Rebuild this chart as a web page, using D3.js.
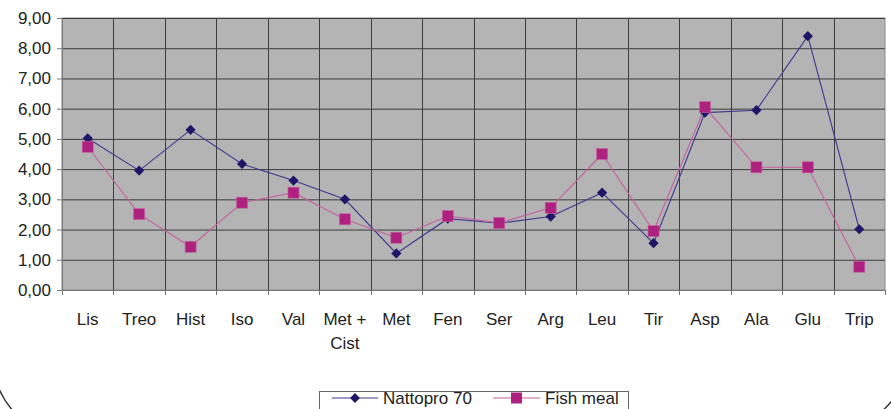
<!DOCTYPE html>
<html>
<head>
<meta charset="utf-8">
<script src="https://cdn.jsdelivr.net/npm/d3@7"></script>
<style>
  html, body { margin: 0; padding: 0; background: #fff; }
  svg { display: block; font-family: "Liberation Sans", Arial, sans-serif; }
</style>
</head>
<body>
<svg id="chart" width="891" height="409"></svg>
<script>
// amino acids (x categories)
const categories = ["Lis","Treo","Hist","Iso","Val","Met + Cist","Met","Fen","Ser","Arg","Leu","Tir","Asp","Ala","Glu","Trip"];
const catLabels = [["Lis"],["Treo"],["Hist"],["Iso"],["Val"],["Met +","Cist"],["Met"],["Fen"],["Ser"],["Arg"],["Leu"],["Tir"],["Asp"],["Ala"],["Glu"],["Trip"]];
const nattopro = [5.02,3.95,5.30,4.17,3.62,3.00,1.21,2.36,2.21,2.43,3.22,1.55,5.87,5.95,8.40,2.01];
const fishMeal = [4.74,2.51,1.43,2.89,3.22,2.34,1.73,2.45,2.22,2.72,4.50,1.95,6.05,4.06,4.06,0.77];
const yTicks = [0,1,2,3,4,5,6,7,8,9];
const seriesNames = ["Nattopro 70","Fish meal"];

const svg = d3.select('#chart');
const plot = {left: 62, right: 885, top: 18, bottom: 290};

const x = d3.scaleBand().domain(categories).range([plot.left, plot.right]).padding(0);
const y = d3.scaleLinear().domain([0, 9]).range([plot.bottom, plot.top]);
const fmt = v => d3.format('.2f')(v).replace('.', ',');

// plot background
svg.append('rect')
    .attr('x', plot.left).attr('y', plot.top)
    .attr('width', plot.right - plot.left).attr('height', plot.bottom - plot.top)
    .attr('fill', '#b4b4b4')
    .attr('stroke', '#8a8a8a');

// horizontal grid
svg.append('g').selectAll('line')
    .data(yTicks)
    .join('line')
    .attr('x1', plot.left).attr('x2', plot.right)
    .attr('y1', d => y(d) + 0.5).attr('y2', d => y(d) + 0.5)
    .attr('stroke', '#3c3c3c').attr('stroke-width', 1);

// vertical grid at category boundaries
const bounds = categories.slice(1).map(c => x(c));
svg.append('g').selectAll('line')
    .data(bounds)
    .join('line')
    .attr('x1', d => Math.round(d) + 0.5).attr('x2', d => Math.round(d) + 0.5)
    .attr('y1', plot.top).attr('y2', plot.bottom)
    .attr('stroke', '#3c3c3c').attr('stroke-width', 1);

// y axis
const yAxis = svg.append('g')
    .attr('transform', `translate(${plot.left},0)`)
    .call(d3.axisLeft(y).tickValues(yTicks).tickFormat(fmt).tickSize(5).tickPadding(6));
yAxis.select('.domain').attr('stroke', '#777');
yAxis.selectAll('.tick line').attr('stroke', '#777');
yAxis.selectAll('text').attr('font-size', '17px').attr('fill', '#222')
    .attr('font-family', '"Liberation Sans", Arial, sans-serif');

// x axis (ticks at boundaries)
const xg = svg.append('g');
xg.append('line')
    .attr('x1', plot.left).attr('x2', plot.right)
    .attr('y1', plot.bottom + 0.5).attr('y2', plot.bottom + 0.5)
    .attr('stroke', '#777');
xg.selectAll('line.tk')
    .data([plot.left, ...bounds, plot.right])
    .join('line')
    .attr('class', 'tk')
    .attr('x1', d => Math.round(d) + 0.5).attr('x2', d => Math.round(d) + 0.5)
    .attr('y1', plot.bottom).attr('y2', plot.bottom + 5)
    .attr('stroke', '#777');
const labels = xg.selectAll('text.cat')
    .data(categories)
    .join('text')
    .attr('class', 'cat')
    .attr('x', d => x(d) + x.bandwidth() / 2)
    .attr('y', 325)
    .attr('text-anchor', 'middle')
    .attr('font-size', '17px')
    .attr('fill', '#222');
labels.each(function (d, i) {
    d3.select(this).selectAll('tspan')
        .data(catLabels[i])
        .join('tspan')
        .attr('x', x(d) + x.bandwidth() / 2)
        .attr('dy', (t, j) => j === 0 ? 0 : 24)
        .text(t => t);
});

// series
const line = d3.line()
    .x((d, i) => x(categories[i]) + x.bandwidth() / 2)
    .y(d => y(d));

svg.append('path').datum(nattopro)
    .attr('d', line).attr('fill', 'none')
    .attr('stroke', '#3d3a8e').attr('stroke-width', 1.1);
svg.append('path').datum(fishMeal)
    .attr('d', line).attr('fill', 'none')
    .attr('stroke', '#c4609f').attr('stroke-width', 1.1);

const diamond = d3.symbol().type(d3.symbolDiamond2 || d3.symbolDiamond).size(70);
svg.append('g').selectAll('path')
    .data(nattopro)
    .join('path')
    .attr('transform', (d, i) => `translate(${x(categories[i]) + x.bandwidth() / 2},${y(d)}) rotate(45)`)
    .attr('d', d3.symbol().type(d3.symbolSquare).size(52))
    .attr('fill', '#1e1566');

svg.append('g').selectAll('rect')
    .data(fishMeal)
    .join('rect')
    .attr('x', (d, i) => x(categories[i]) + x.bandwidth() / 2 - 5.5)
    .attr('y', d => y(d) - 5.5)
    .attr('width', 11).attr('height', 11)
    .attr('fill', '#ae217f')
    .attr('stroke', '#c4609f').attr('stroke-width', 0.6);

// chart-area border corners (rounded frame running off the picture)
svg.append('path')
    .attr('d', 'M -3,384 Q 3,400 14,412')
    .attr('fill', 'none').attr('stroke', '#333').attr('stroke-width', 1.4);
svg.append('path')
    .attr('d', 'M 881,412 Q 888,406 894,398')
    .attr('fill', 'none').attr('stroke', '#333').attr('stroke-width', 1.4);

// legend
const lg = svg.append('g');
lg.append('rect')
    .attr('x', 319.5).attr('y', 391.5).attr('width', 309).attr('height', 40)
    .attr('fill', '#fff').attr('stroke', '#666');
const legendItems = [
    {name: seriesNames[0], x0: 332, x1: 378, text: 383, color: '#3d3a8e', mark: '#1e1566', shape: 'diamond'},
    {name: seriesNames[1], x0: 493, x1: 540, text: 545, color: '#c4609f', mark: '#ae217f', shape: 'square'}
];
legendItems.forEach(it => {
    const cy = 398;
    lg.append('line').attr('x1', it.x0).attr('x2', it.x1).attr('y1', cy).attr('y2', cy)
        .attr('stroke', it.color).attr('stroke-width', 1.2);
    const cx = (it.x0 + it.x1) / 2;
    if (it.shape === 'diamond') {
        lg.append('path').attr('transform', `translate(${cx},${cy}) rotate(45)`)
            .attr('d', d3.symbol().type(d3.symbolSquare).size(48)).attr('fill', it.mark);
    } else {
        lg.append('rect').attr('x', cx - 5.5).attr('y', cy - 5.5).attr('width', 11).attr('height', 11)
            .attr('fill', it.mark);
    }
    lg.append('text').attr('x', it.text).attr('y', cy + 6)
        .attr('font-size', '17px').attr('fill', '#222').text(it.name);
});
</script>
</body>
</html>
